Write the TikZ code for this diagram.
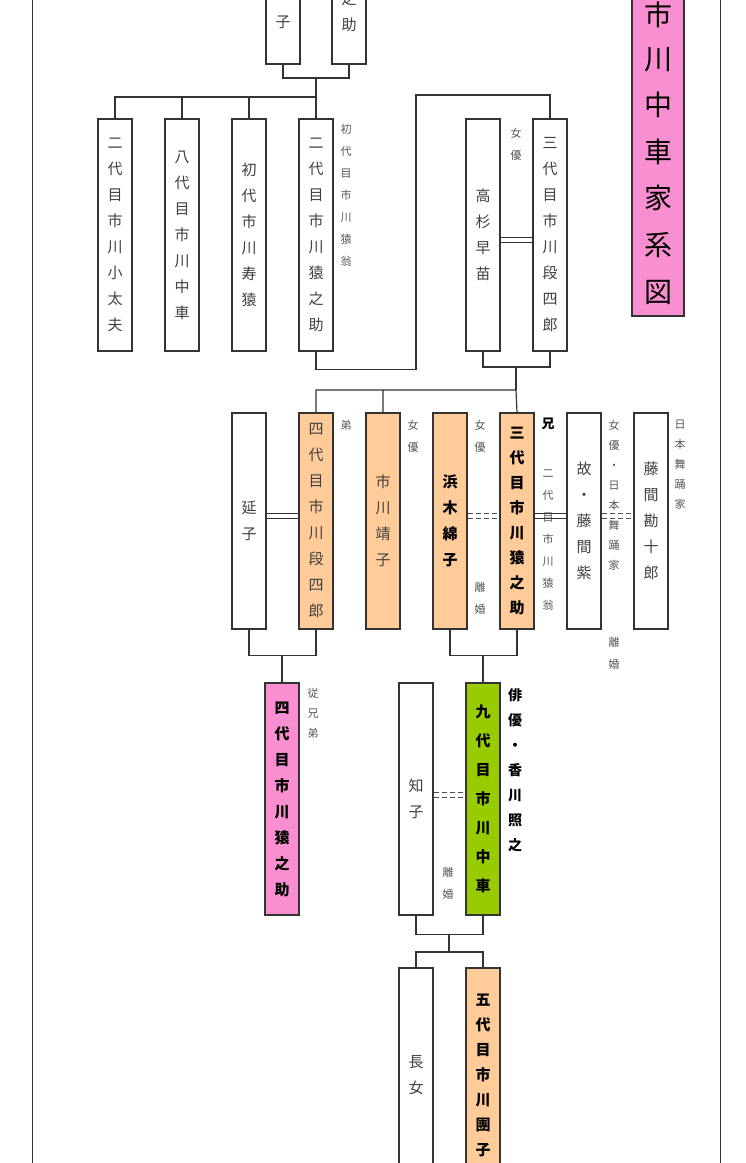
\documentclass[tikz,border=0pt]{standalone}
\usepackage{fontspec}
\setmainfont{Noto Sans CJK JP}
\ExplSyntaxOn
\NewDocumentCommand\VT{mm}{\vbox{\baselineskip=#1pt\lineskiplimit=-100pt\lineskip=0pt\tl_map_inline:nn{#2}{\hbox{##1}}}}
\ExplSyntaxOff
\definecolor{orng}{HTML}{FFCC99}
\definecolor{pnk}{HTML}{F98FD0}
\definecolor{grn}{HTML}{99CC00}
\definecolor{lbl}{HTML}{555555}
\begin{document}
\begin{tikzpicture}[x=1pt,y=-1pt,
  bx/.style={draw=black!80,line width=1.2pt,minimum width=34pt,inner sep=0pt,font=\fontsize{15}{15}\selectfont,text=black!75},
  bold/.style={font=\fontsize{15}{15}\selectfont\bfseries,text=black},
  lab/.style={inner sep=0pt,font=\fontsize{11}{11}\selectfont,text=lbl,anchor=north},
  ln/.style={draw=black!80,line width=1.2pt},
  sl/.style={draw=black!80,line width=0.9pt},
  dsl/.style={draw=black!70,line width=0.9pt,dash pattern=on 5pt off 3pt},
  tt/.style={inner sep=0pt,font=\fontsize{28}{28}\selectfont}]
\clip (0,0) rectangle (746,1163);
\fill[white] (0,0) rectangle (746,1163);
\draw[black!80,line width=1pt] (32,0) -- (32,1163) (720,0) -- (720,1163);
% title
\node[bx,fill=pnk,minimum width=52pt,minimum height=366pt] (title) at (658,133) {};
\foreach \c/\y in {市/15,川/60,中/105,車/152,家/198,系/245,図/292}
  \node[tt] at (658,\y) {\c};
% top generation
\node[bx,minimum height=164pt] (gm) at (283,-18) {};
\node[bx,minimum height=164pt] (gf) at (349,-18) {};
\node[font=\fontsize{15}{15}\selectfont,text=black!75,inner sep=0pt] at (283,22) {子};
\node[font=\fontsize{15}{15}\selectfont,text=black!75,inner sep=0pt] at (349,12) {\VT{26}{之助}};
\coordinate (j0) at (316,78);
\draw[ln] (gm.south) |- (j0) -| (gf.south);
% row 1
\node[bx,minimum height=232pt] (a1) at (115,235) {\VT{26}{二代目市川小太夫}};
\node[bx,minimum height=232pt] (a2) at (182,235) {\VT{26}{八代目市川中車}};
\node[bx,minimum height=232pt] (a3) at (249,235) {\VT{26}{初代市川寿猿}};
\node[bx,minimum height=232pt] (a4) at (316,235) {\VT{26}{二代目市川猿之助}};
\node[lab] at (346,124) {\VT{22}{初代目市川猿翁}};
\coordinate (j1) at (316,97);
\draw[ln] (j0) -- (j1) (a1.north) |- (j1) -- (a4.north) (a2.north) -- (a2.north|-j1) (a3.north) -- (a3.north|-j1);
\node[bx,minimum height=232pt] (tk) at (483,235) {\VT{26}{高杉早苗}};
\node[bx,minimum height=232pt] (d3) at (550,235) {\VT{26}{三代目市川段四郎}};
\node[lab] at (516,128) {\VT{22}{女優}};
\draw[sl] (tk.east|-0,237) -- (d3.west|-0,237) (tk.east|-0,242) -- (d3.west|-0,242);
\draw[ln] (a4.south) -- ++(0,18) -| (416,95) -| (d3.north);
\coordinate (j2) at (516,367);
\coordinate (j3) at (516,390);
\draw[ln] (tk.south) |- (j2) -| (d3.south) (j2) -- (j3);
% row 2
\node[bx,minimum height=216pt] (nb) at (249,521) {\VT{26}{延子}};
\node[bx,fill=orng,minimum height=216pt] (d4) at (316,521) {\VT{26}{四代目市川段四郎}};
\node[bx,fill=orng,minimum height=216pt] (ys) at (383,521) {\VT{26}{市川靖子}};
\node[bx,fill=orng,minimum height=216pt,bold] (hm) at (450,521) {\VT{26}{浜木綿子}};
\node[bx,fill=orng,minimum height=216pt,bold] (e3) at (517,521) {\VT{25}{三代目市川猿之助}};
\node[bx,minimum height=216pt] (mu) at (584,521) {\VT{26}{故・藤間紫}};
\node[bx,minimum height=216pt] (kj) at (651,521) {\VT{26}{藤間勘十郎}};
\draw[ln] (d4.north) |- (j3) (ys.north) -- (ys.north|-j3) (j3) -- (e3.north);
\node[lab] at (346,420) {弟};
\node[lab] at (413,420) {\VT{22}{女優}};
\node[lab] at (480,420) {\VT{22}{女優}};
\node[lab] at (480,582) {\VT{22}{離婚}};
\node[lab,font=\fontsize{13}{13}\selectfont\bfseries,text=black] at (548,418) {兄};
\node[lab] at (548,470) {\VT{22}{二代目市川猿翁}};
\node[lab] at (614,420) {\VT{20}{女優・日本舞踊家}};
\node[lab] at (614,637) {\VT{22}{離婚}};
\node[lab] at (680,420) {\VT{20}{日本舞踊家}};
\foreach \yy in {513,518} {
  \draw[sl] (nb.east|-0,\yy) -- (d4.west|-0,\yy);
  \draw[dsl] (hm.east|-0,\yy) -- (e3.west|-0,\yy);
  \draw[sl] (e3.east|-0,\yy) -- (mu.west|-0,\yy);
  \draw[dsl] (mu.east|-0,\yy) -- (kj.west|-0,\yy);
}
% row 3
\node[bx,fill=pnk,minimum height=232pt,bold] (e4) at (282,799) {\VT{26}{四代目市川猿之助}};
\node[bx,minimum height=232pt] (tm) at (416,799) {\VT{26}{知子}};
\node[bx,fill=grn,minimum height=232pt,bold] (ch) at (483,799) {\VT{29}{九代目市川中車}};
\node[lab] at (313,688) {\VT{20}{従兄弟}};
\node[lab] at (448,867) {\VT{22}{離婚}};
\node[lab,font=\fontsize{14}{14}\selectfont\bfseries,text=black] at (515,688) {\VT{25}{俳優・香川照之}};
\foreach \yy in {792,797}
  \draw[dsl] (tm.east|-0,\yy) -- (ch.west|-0,\yy);
\draw[ln] (nb.south) -- ++(0,26) -| (d4.south) (282,655) -- (e4.north);
\draw[ln] (hm.south) -- ++(0,26) -| (e3.south) (483,655) -- (ch.north);
% row 4
\node[bx,minimum height=214pt] (co) at (416,1075) {\VT{26}{長女}};
\node[bx,fill=orng,minimum height=214pt,bold] (dn) at (483,1075) {\VT{25}{五代目市川團子}};
\draw[ln] (tm.south) -- ++(0,19) -| (ch.south) (449,934) -- (449,952);
\draw[ln] (co.north) |- (449,952) -| (dn.north);
\end{tikzpicture}
\end{document}
